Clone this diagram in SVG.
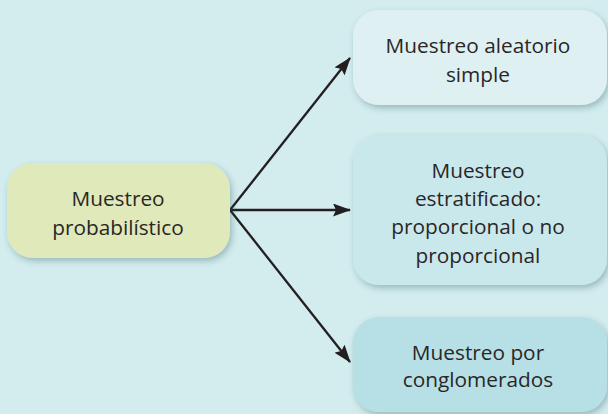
<svg xmlns="http://www.w3.org/2000/svg" width="608" height="414" viewBox="0 0 608 414">
<defs>
<filter id="sh" x="-10%" y="-10%" width="125%" height="135%">
<feDropShadow dx="2" dy="3" stdDeviation="3" flood-color="#2f5a60" flood-opacity="0.35"/>
</filter>
<marker id="ah" markerWidth="18" markerHeight="13" refX="17" refY="6.5" orient="auto" markerUnits="userSpaceOnUse">
<path d="M0,0 L18,6.5 L0,13 L3,6.5 Z" fill="#231f20"/>
</marker>
<style>
.t{font-family:"Open Sans","Liberation Sans",sans-serif;font-size:20.8px;fill:#2a2627;text-anchor:middle;font-variant-ligatures:none}
.c{stroke:#231f20;stroke-width:2.3;fill:none;marker-end:url(#ah)}
</style>
</defs>
<rect width="608" height="414" fill="#d3ecee"/>
<g id="connectors">
<line class="c" x1="230" y1="210" x2="350" y2="58"/>
<line class="c" x1="230" y1="210" x2="350" y2="210"/>
<line class="c" x1="230" y1="210" x2="350" y2="362"/>
</g>
<g id="n0">
<rect x="7" y="163" width="223" height="95" rx="26" fill="#dfe9b9" filter="url(#sh)"/>
<text class="t" x="118" y="206">Muestreo</text>
<text class="t" x="118" y="235">probabilístico</text>
</g>
<g id="n1">
<rect x="353" y="10" width="254" height="95" rx="26" fill="#dff0f3" filter="url(#sh)"/>
<text class="t" x="478" y="53">Muestreo aleatorio</text>
<text class="t" x="478" y="82">simple</text>
</g>
<g id="n2">
<rect x="353" y="135" width="254" height="150" rx="26" fill="#c9e8ec" filter="url(#sh)"/>
<text class="t" x="478" y="178">Muestreo</text>
<text class="t" x="478" y="206">estratificado:</text>
<text class="t" x="478" y="234">proporcional o no</text>
<text class="t" x="478" y="263">proporcional</text>
</g>
<g id="n3">
<rect x="353" y="317" width="254" height="95" rx="26" fill="#b6e0e5" filter="url(#sh)"/>
<text class="t" x="478" y="360">Muestreo por</text>
<text class="t" x="478" y="387">conglomerados</text>
</g>
</svg>
